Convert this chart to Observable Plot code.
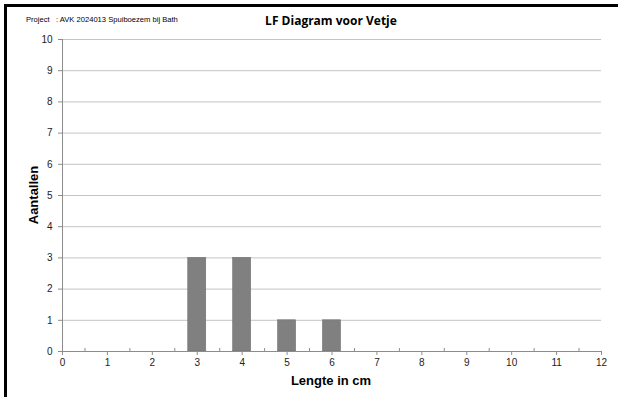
<!DOCTYPE html>
<html>
<head>
<meta charset="utf-8">
<script src="https://cdn.jsdelivr.net/npm/d3@7"></script>
<script src="https://cdn.jsdelivr.net/npm/@observablehq/plot@0.6"></script>
<style>
  html, body { margin: 0; padding: 0; background: #fff; }
  #wrap { position: relative; width: 618px; height: 397px; overflow: hidden; font-family: "Liberation Sans", Arial, sans-serif; }
  #frame { position: absolute; left: 4px; top: 4px; width: 640px; height: 420px; border-left: 3px solid #000; border-top: 3px solid #000; box-sizing: border-box; }
  #chart { position: absolute; left: 0; top: 0; }
  .t { position: absolute; white-space: nowrap; color: #000; }
  #project { left: 26px; top: 15px; font-size: 7.6px; }
  #title { left: 331px; top: 20px; transform: translate(-50%, -50%); font-family: "Open Sans", "DejaVu Sans", sans-serif; font-weight: bold; font-size: 12px; }
  #ylab { left: 33px; top: 195px; font-weight: bold; font-size: 13px; transform: translate(-50%, -50%) rotate(-90deg); }
  #xlab { left: 331px; top: 380px; font-weight: bold; font-size: 13px; transform: translate(-50%, -50%); }
</style>
</head>
<body>
<div id="wrap">
  <div id="chart"></div>
  <div id="frame"></div>
  <div class="t" id="project">Project&nbsp;&nbsp;&nbsp;: AVK 2024013 Spuiboezem bij Bath</div>
  <div class="t" id="title">LF Diagram voor Vetje</div>
  <div class="t" id="ylab">Aantallen</div>
  <div class="t" id="xlab">Lengte in cm</div>
</div>
<script>
const lengths = [3, 4, 5, 6];
const counts = [3, 3, 1, 1];
const xTicks = [0,1,2,3,4,5,6,7,8,9,10,11,12];
const xMinorTicks = [0.5,1.5,2.5,3.5,4.5,5.5,6.5,7.5,8.5,9.5,10.5,11.5];
const yTicks = [0,1,2,3,4,5,6,7,8,9,10];
const barHalfWidth = 0.2;

const data = lengths.map((l, i) => ({len: l, n: counts[i]}));

const chart = Plot.plot({
  width: 618,
  height: 397,
  marginLeft: 62,
  marginRight: 17,
  marginTop: 39,
  marginBottom: 46,
  style: {fontFamily: "'Liberation Sans', Arial, sans-serif", fontSize: "10px", color: "#333", background: "transparent"},
  x: {domain: [0, 12]},
  y: {domain: [0, 10]},
  marks: [
    Plot.gridY(yTicks.filter(d => d > 0), {stroke: "#c4c4c4", strokeOpacity: 1, strokeWidth: 1}),
    Plot.rectY(data, {x1: d => d.len - barHalfWidth, x2: d => d.len + barHalfWidth, y1: 0, y2: "n", fill: "#808080", stroke: "#6f6f6f", strokeWidth: 0.6}),
    Plot.ruleY([0], {stroke: "#8c8c8c"}),
    Plot.ruleX([0], {stroke: "#8c8c8c"}),
    Plot.axisY(yTicks, {tickSize: 4, tickPadding: 6, stroke: "#8c8c8c", fill: "#222", label: null}),
    Plot.axisX(xTicks, {tickSize: 4, tickPadding: 3, stroke: "#8c8c8c", fill: "#222", label: null}),
    Plot.axisX(xMinorTicks, {tickSize: -3, tickFormat: () => "", stroke: "#8c8c8c", label: null})
  ]
});
document.getElementById("chart").appendChild(chart);
</script>
</body>
</html>
